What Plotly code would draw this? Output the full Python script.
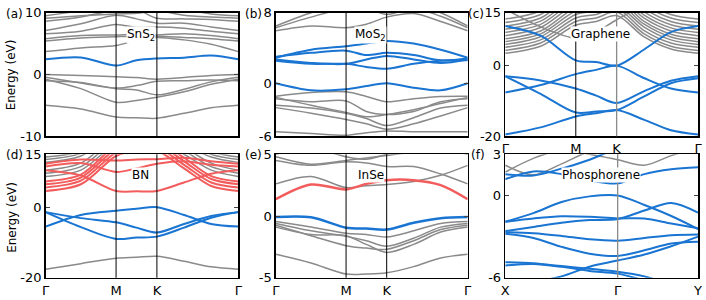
import plotly.graph_objects as go

# ---------------- k-paths ----------------
K_HEX = [0, 0.289, 0.577, 0.744, 0.911, 1.133, 1.355, 1.577]
HEX_TICKS = [0, 0.577, 0.911, 1.577]
HEX_LABELS = ["Γ", "M", "K", "Γ"]
K_PHOS = [0, 0.146, 0.292, 0.437, 0.583, 0.722, 0.861, 1.0]
PHOS_TICKS = [0, 0.583, 1.0]
PHOS_LABELS = ["X", "Γ", "Y"]

# ---------------- (a) SnS2 ----------------
sns2_blue = [[2.46, 2.75, 1.44, 2.3, 2.6, 2.72, 3.05, 2.46]]
sns2_gray = [
    [3.7, 4.3, 4.7, 5.5, 6.0, 5.6, 4.9, 3.7],
    [5.4, 5.9, 6.1, 6.2, 6.2, 6.0, 5.8, 5.4],
    [5.8, 6.3, 6.4, 6.5, 6.4, 6.6, 6.3, 5.8],
    [6.6, 7.0, 8.1, 7.6, 7.7, 7.5, 7.0, 6.6],
    [7.1, 8.2, 9.6, 9.0, 8.3, 8.3, 7.7, 7.1],
    [8.6, 9.3, 10.4, 10.5, 9.1, 9.0, 8.9, 8.6],
    [9.1, 9.5, 9.8, 9.9, 10.3, 9.6, 9.3, 9.1],
    [9.5, 10.3, 11.0, 11.0, 11.0, 10.5, 9.8, 9.5],
    [0.0, -0.15, -0.36, -0.5, -0.77, -0.5, -0.15, 0.0],
    [-0.46, -1.4, -2.3, -2.5, -3.3, -2.4, -1.2, -0.46],
    [-0.77, -2.3, -4.5, -4.2, -3.7, -2.8, -1.6, -0.77],
    [-1.0, -1.3, -2.2, -1.8, -1.1, -1.0, -0.9, -1.0],
    [-5.0, -5.6, -6.9, -7.0, -7.1, -6.3, -5.4, -5.0],
]

# ---------------- (b) MoS2 ----------------
mos2_blue = [
    [0.0, -0.8, -0.68, -0.32, 0.0, -0.5, -0.8, 0.0],
    [2.9, 3.8, 4.2, 4.5, 4.8, 4.5, 3.8, 2.9],
    [3.0, 3.45, 3.7, 3.2, 3.45, 3.2, 2.6, 2.8],
    [2.7, 2.3, 2.2, 2.7, 3.1, 2.7, 2.3, 2.7],
    [2.55, 2.2, 2.2, 1.85, 1.65, 2.2, 2.55, 2.6],
]
mos2_gray = [
    [5.95, 6.5, 6.3, 6.7, 7.5, 7.9, 7.0, 5.95],
    [6.3, 7.5, 8.5, 8.5, 7.8, 8.5, 7.6, 6.3],
    [6.5, 8.0, 9.0, 9.0, 8.2, 9.0, 8.0, 6.5],
    [-1.47, -1.05, -0.97, -1.5, -2.1, -1.75, -1.5, -1.47],
    [-1.76, -2.1, -2.0, -3.2, -3.55, -3.2, -2.1, -1.76],
    [-2.48, -2.8, -3.4, -4.0, -4.8, -3.9, -2.8, -2.48],
    [-2.76, -3.4, -4.1, -4.6, -5.2, -4.6, -3.7, -2.76],
    [-5.5, -5.7, -5.9, -5.6, -5.4, -5.5, -5.5, -5.5],
    [-1.6, -2.5, -3.3, -3.8, -3.55, -3.0, -2.3, -1.6],
]

# ---------------- (c) Graphene ----------------
gra_blue = [
    [-7.6, -5.5, -2.4, -1.2, 0.0, -3.5, -6.5, -7.6],
    [11.2, 8.5, 1.5, 1.0, 0.0, 4.5, 9.5, 11.2],
    [-3.0, -4.2, -6.5, -8.5, -10.6, -7.3, -4.3, -3.0],
    [-3.0, -8.0, -13.3, -13.0, -12.6, -8.8, -5.0, -3.6],
    [-19.5, -17.5, -14.4, -13.5, -12.6, -15.3, -18.3, -19.5],
]
gra_gray = [
    [3.5, 5.5, 11.5, 12.5, 14.2, 8.2, 4.7, 3.5],
    [4.3, 6.4, 12.5, 13.5, 15.2, 9.1, 5.5, 4.3],
    [5.2, 7.3, 13.5, 14.5, 16.2, 10.0, 6.4, 5.2],
    [6.0, 8.2, 14.5, 15.5, 17.0, 11.0, 7.3, 6.0],
    [6.8, 9.0, 15.5, 16.5, 18.0, 11.8, 8.1, 6.8],
    [7.6, 9.8, 16.5, 17.5, 19.0, 12.6, 8.9, 7.6],
    [8.5, 10.8, 17.5, 18.5, 20.0, 13.5, 9.8, 8.5],
    [9.4, 11.7, 18.5, 19.5, 21.0, 14.4, 10.7, 9.4],
    [10.3, 12.6, 19.5, 20.5, 22.0, 15.3, 11.6, 10.3],
    [11.2, 13.5, 20.5, 21.5, 23.0, 16.2, 12.5, 11.2],
    [12.2, 14.5, 21.5, 22.5, 24.0, 17.2, 13.5, 12.2],
    [13.2, 15.5, 22.5, 23.5, 25.0, 18.2, 14.5, 13.2],
    [16.0, 11.0, 7.8, 9.5, 13.0, 17.0, 19.0, 20.0],
]

# ---------------- (d) BN ----------------
bn_blue = [
    [-5.5, -2.2, -1.0, -0.45, 0.0, -2.2, -4.75, -5.5],
    [-1.4, -3.1, -4.3, -5.8, -7.2, -4.75, -2.5, -1.4],
    [-1.4, -5.65, -9.0, -8.6, -8.35, -5.8, -3.0, -1.4],
]
bn_red = [
    [10.5, 9.0, 4.6, 4.5, 4.6, 7.0, 9.5, 10.5],
    [4.6, 6.5, 14.5, 16.0, 16.0, 11.0, 6.0, 4.6],
    [5.6, 7.5, 15.5, 17.0, 17.0, 12.0, 7.0, 5.6],
    [6.5, 8.4, 16.5, 18.0, 18.0, 13.0, 8.0, 6.5],
    [7.3, 9.2, 17.5, 19.0, 19.0, 14.0, 8.8, 7.3],
    [11.5, 12.5, 10.0, 11.0, 12.3, 13.0, 12.0, 11.5],
    [12.3, 13.5, 13.2, 13.5, 13.6, 14.0, 13.0, 12.3],
]
bn_gray = [
    [8.7, 10.5, 18.0, 19.0, 19.0, 15.0, 10.5, 8.7],
    [9.6, 11.5, 19.0, 20.0, 20.0, 16.0, 11.5, 9.6],
    [10.5, 12.5, 20.0, 21.0, 21.0, 17.0, 12.5, 10.5],
    [12.7, 14.5, 21.0, 22.0, 22.0, 18.0, 14.2, 12.7],
    [13.5, 15.3, 22.0, 23.0, 23.0, 19.0, 15.0, 13.5],
    [14.2, 16.0, 23.0, 24.0, 24.0, 20.0, 15.8, 14.2],
    [-17.6, -16.0, -14.45, -14.2, -13.9, -15.3, -16.9, -17.6],
]

# ---------------- (e) InSe ----------------
inse_blue = [[-0.08, -0.1, -0.95, -1.02, -1.1, -0.55, -0.18, -0.08]]
inse_red = [[1.36, 2.55, 2.15, 2.6, 2.9, 2.9, 2.5, 1.36]]
inse_gray = [
    [2.6, 3.2, 2.3, 2.45, 2.55, 2.8, 3.3, 4.1],
    [4.5, 4.1, 4.4, 4.3, 4.0, 4.0, 3.4, 2.6],
    [4.8, 4.2, 4.5, 4.7, 4.9, 5.2, 5.5, 5.5],
    [5.0, 5.5, 4.8, 4.6, 5.0, 5.5, 5.5, 5.0],
    [-0.45, -0.9, -1.4, -1.5, -1.7, -1.2, -0.6, -0.45],
    [-0.6, -1.2, -1.65, -2.0, -2.45, -1.8, -0.9, -0.6],
    [-0.75, -1.6, -2.4, -2.6, -2.7, -2.0, -1.1, -0.75],
    [-0.9, -1.5, -1.6, -2.3, -2.95, -2.3, -1.3, -0.9],
    [-3.1, -3.8, -4.7, -4.7, -4.6, -4.1, -3.4, -3.1],
]

# ---------------- (f) Phosphorene ----------------
phos_blue = [
    [1.18, 1.75, 1.55, 1.1, 0.88, 1.55, 1.9, 2.05],
    [1.55, 1.45, 1.95, 2.6, 3.4, 3.6, 3.6, 3.6],
    [-1.92, -1.29, -0.48, -0.07, 0.0, -0.7, -1.5, -2.45],
    [-1.92, -1.68, -1.52, -1.56, -1.68, -1.68, -2.05, -2.4],
    [-2.6, -2.3, -2.0, -1.8, -1.72, -1.1, -0.55, -1.25],
    [-2.68, -2.75, -2.95, -3.2, -3.3, -3.1, -2.9, -2.84],
    [-2.79, -3.1, -3.75, -4.25, -4.41, -4.0, -3.5, -3.37],
    [-4.87, -4.95, -5.15, -5.35, -5.56, -5.9, -6.5, -7.0],
    [-6.5, -6.3, -5.9, -5.2, -4.75, -4.3, -3.7, -3.0],
    [-5.1, -5.0, -5.2, -5.5, -5.7, -6.2, -6.8, -7.2],
]
phos_gray = [
    [2.2, 1.5, 2.3, 3.2, 3.5, 3.5, 3.5, 3.5],
    [1.7, 2.7, 3.3, 3.0, 2.6, 2.2, 2.9, 3.5],
]

BLUE = "#1a75d2"
RED = "#f25c5c"
GRAY = "#8a8a8a"
FONT = "DejaVu Sans"
W, H = 706, 300

# pixel boxes of the six plot areas: (x0, x1, y0, y1)
panels = [
    dict(box=(42, 237, 6, 136), k=K_HEX, ticks=HEX_TICKS, labels=HEX_LABELS, showx=False,
         yr=(-10, 10), name="SnS<sub>2</sub>", tag="(a)", tagx=0,
         sets=[(sns2_gray, GRAY, 1.5), (sns2_blue, BLUE, 2)], vl=[(0.577, "black"), (0.911, "black")]),
    dict(box=(275, 469, 6, 136), k=K_HEX, ticks=HEX_TICKS, labels=HEX_LABELS, showx=False,
         yr=(-6, 8), name="MoS<sub>2</sub>", tag="(b)", tagx=242,
         sets=[(mos2_gray, GRAY, 1.5), (mos2_blue, BLUE, 2)], vl=[(0.577, "black"), (0.911, "black")]),
    dict(box=(507, 702, 6, 136), k=K_HEX, ticks=HEX_TICKS, labels=HEX_LABELS, showx=True,
         yr=(-20, 15), name="Graphene", tag="(c)", tagx=467,
         sets=[(gra_gray, GRAY, 1.5), (gra_blue, BLUE, 2)], vl=[(0.577, "black"), (0.911, GRAY)]),
    dict(box=(42, 237, 155, 285), k=K_HEX, ticks=HEX_TICKS, labels=HEX_LABELS, showx=True,
         yr=(-20, 15), name="BN", tag="(d)", tagx=0,
         sets=[(bn_gray, GRAY, 1.5), (bn_red, RED, 2), (bn_blue, BLUE, 2)], vl=[(0.577, "black"), (0.911, "black")]),
    dict(box=(275, 469, 155, 285), k=K_HEX, ticks=HEX_TICKS, labels=HEX_LABELS, showx=True,
         yr=(-5, 5), name="InSe", tag="(e)", tagx=242,
         sets=[(inse_gray, GRAY, 1.5), (inse_red, RED, 2.5), (inse_blue, BLUE, 2.5)], vl=[(0.577, "black"), (0.911, "black")]),
    dict(box=(507, 702, 155, 285), k=K_PHOS, ticks=PHOS_TICKS, labels=PHOS_LABELS, showx=True,
         yr=(-6, 3), name="Phosphorene", tag="(f)", tagx=470,
         sets=[(phos_gray, GRAY, 1.5), (phos_blue, BLUE, 2)], vl=[(0.583, GRAY)]),
]

fig = go.Figure()
layout = dict(width=W, height=H, margin=dict(l=0, r=0, t=0, b=0),
              paper_bgcolor="white", plot_bgcolor="white", showlegend=False, hovermode=False,
              font=dict(family=FONT, size=12, color="black"))
shapes, annotations = [], []

for i, p in enumerate(panels, start=1):
    sfx = "" if i == 1 else str(i)
    xa, ya = "x" + sfx, "y" + sfx
    x0, x1, y0, y1 = p["box"]
    kmax = p["k"][-1]
    for bands, color, lw in p["sets"]:
        for b in bands:
            fig.add_trace(go.Scatter(x=p["k"], y=b, mode="lines", xaxis=xa, yaxis=ya,
                                     line=dict(color=color, width=lw, shape="spline", smoothing=0.9),
                                     hoverinfo="skip"))
    lo, hi = p["yr"]
    xa_cfg = dict(domain=[x0 / W, x1 / W], anchor=ya, range=[0, kmax],
                  showgrid=False, zeroline=False, showline=True, linecolor="black",
                  linewidth=1.5, mirror=True, ticks="", tickfont=dict(size=13))
    if p["showx"]:
        xa_cfg.update(tickvals=p["ticks"], ticktext=p["labels"])
    else:
        xa_cfg.update(showticklabels=False)
    layout["xaxis" + sfx] = xa_cfg
    layout["yaxis" + sfx] = dict(domain=[1 - y1 / H, 1 - y0 / H], anchor=xa, range=[lo, hi],
                                 showgrid=False, zeroline=False, showline=True, linecolor="black",
                                 linewidth=1.5, mirror="ticks", ticks="inside", ticklen=4,
                                 tickvals=[lo, 0, hi], ticktext=[str(lo), "0", str(hi)],
                                 tickfont=dict(size=13))
    for kv, col in p["vl"]:
        shapes.append(dict(type="line", xref=xa, yref=ya + " domain", x0=kv, x1=kv, y0=0, y1=1,
                           line=dict(color=col, width=1.3 if col != "black" else 1)))
    annotations.append(dict(text=p["name"], xref=xa + " domain", yref=ya + " domain",
                            x=0.495, y=0.895, showarrow=False, bgcolor="white",
                            font=dict(size=12), borderpad=0))
    annotations.append(dict(text=p["tag"], xref="paper", yref="paper", x=p["tagx"] / W,
                            y=1 - (y0 + 1) / H, xanchor="left", yanchor="middle", showarrow=False,
                            font=dict(size=12)))

for yc in (71, 221):
    annotations.append(dict(text="Energy (eV)", xref="paper", yref="paper", x=8 / W, y=1 - yc / H,
                            xanchor="center", yanchor="middle",
                            textangle=-90, showarrow=False, font=dict(size=12)))

layout["shapes"] = shapes
layout["annotations"] = annotations
fig.update_layout(**layout)
fig.write_html("out.html", config={"displayModeBar": False, "staticPlot": True},
               post_script="document.body.style.margin='0';document.body.style.overflow='hidden';")
